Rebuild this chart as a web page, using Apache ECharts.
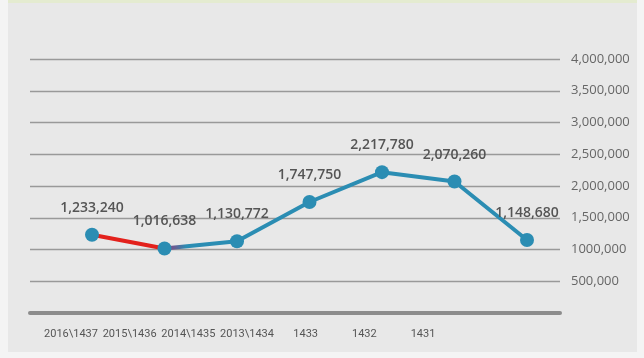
<!DOCTYPE html>
<html>
<head>
<meta charset="utf-8">
<script src="https://cdn.jsdelivr.net/npm/echarts@6/dist/echarts.min.js"></script>
<style>
html,body{margin:0;padding:0;background:#f4f4f4;}
#c{width:644px;height:358px;}
</style>
</head>
<body>
<div id="c"></div>
<script>
const categories = ['2016\\1437', '2015\\1436', '2014\\1435', '2013\\1434', '1433', '1432', '1431'];
const values = [1233240, 1016638, 1130772, 1747750, 2217780, 2070260, 1148680];
const yTickValues = [0, 500000, 1000000, 1500000, 2000000, 2500000, 3000000, 3500000, 4000000];
const yTickLabels = ['', '500,000', '1000,000', '1,500,000', '2,000,000', '2,500,000', '3,000,000', '3,500,000', '4,000,000'];

const chart = echarts.init(document.getElementById('c'), null, {renderer: 'canvas'});
const yMax = yTickValues[yTickValues.length - 1];
const yStep = yTickValues[1] - yTickValues[0];

function fmtY(v) {
  const i = yTickValues.indexOf(v);
  return i >= 0 ? yTickLabels[i] : '';
}

const blue = '#2b8db3';
const option = {
  animation: false,
  backgroundColor: '#f4f4f4',
  graphic: [
    {type: 'rect', z: -10, shape: {x: 8, y: 0, width: 629, height: 352}, style: {fill: '#e8e8e8'}},
    {type: 'rect', z: -9, shape: {x: 8, y: 0, width: 629, height: 3}, style: {fill: '#e4ebd0'}}
  ],
  grid: [
    {left: 30, right: 84, top: 59, bottom: 45},
    {left: 92, right: 117, top: 59, bottom: 45},
    {left: 71, right: 221, top: 59, bottom: 45}
  ],
  xAxis: [
    {gridIndex: 0, type: 'category', data: categories,
     axisLine: {show: true, lineStyle: {color: '#8c8c8c', width: 4}},
     axisTick: {show: false}, axisLabel: {show: false}, splitLine: {show: false}},
    {gridIndex: 1, type: 'category', data: categories, boundaryGap: false, show: false},
    {gridIndex: 2, type: 'category', data: categories, boundaryGap: false,
     axisLine: {show: false}, axisTick: {show: false}, splitLine: {show: false},
     axisLabel: {show: true, interval: 0, margin: 16, color: '#555', fontSize: 11,
       fontFamily: 'Roboto, sans-serif'}}
  ],
  yAxis: [
    {gridIndex: 0, type: 'value', position: 'right', min: 0, max: yMax, interval: yStep,
     axisLine: {show: false}, axisTick: {show: false},
     splitLine: {show: true, lineStyle: {color: '#999', width: 1.4}},
     axisLabel: {show: true, margin: 11, color: '#666', fontSize: 13, align: 'left',
       fontFamily: '"Open Sans", sans-serif', formatter: fmtY}},
    {gridIndex: 1, type: 'value', min: 0, max: yMax, interval: yStep, show: false},
    {gridIndex: 2, type: 'value', min: 0, max: yMax, interval: yStep, show: false}
  ],
  series: [{
    type: 'line',
    xAxisIndex: 1, yAxisIndex: 1,
    data: values,
    symbol: 'circle',
    symbolSize: 14,
    itemStyle: {color: blue},
    lineStyle: {
      width: 4,
      color: new echarts.graphic.LinearGradient(0, 0, 1, 0, [
        {offset: 0, color: '#e3211c'},
        {offset: 0.155, color: '#e3211c'},
        {offset: 0.185, color: '#7a4f8a'},
        {offset: 0.22, color: blue},
        {offset: 1, color: blue}
      ])
    },
    label: {
      show: true, position: 'top', distance: 13,
      color: '#555', fontSize: 14, fontWeight: 600,
      fontFamily: '"Open Sans", sans-serif',
      formatter: p => p.value.toLocaleString('en-US')
    }
  }]
};
chart.setOption(option);
</script>
</body>
</html>
